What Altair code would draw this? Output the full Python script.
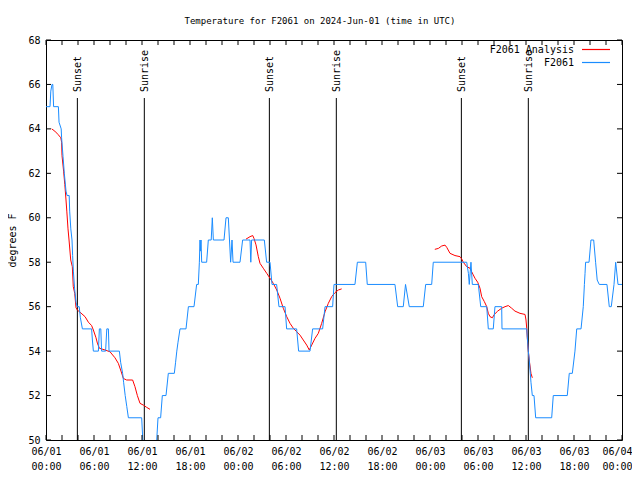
import altair as alt
import pandas as pd

HOUR_MS = 3600000
BASE_MS = int(pd.Timestamp("2024-06-01T00:00:00Z").value // 10**6)
FONT = "DejaVu Sans Mono"
FS = 10

# observed F2061 temperature: (hours since 2024-06-01 00:00 UTC, deg F)
f2061_obs = [
    (0.0, 65), (0.5, 65), (0.6, 65.7), (0.75, 66), (0.85, 66), (0.95, 65), (1.55, 65),
    (1.63, 64.3), (1.9, 64), (1.95, 63.6), (2.13, 62.75), (2.29, 62), (2.5, 61.2),
    (2.63, 61), (2.9, 61), (2.96, 60.3), (3.1, 59.5), (3.25, 59), (3.33, 58.3),
    (3.42, 57.6), (3.58, 56.8), (3.75, 56.2), (3.9, 56), (4.15, 56), (4.3, 55.5),
    (4.55, 55), (5.7, 55), (5.8, 54.5), (5.92, 54), (6.55, 54), (6.67, 55), (6.85, 55),
    (6.95, 54), (7.45, 54), (7.6, 55), (7.8, 55), (7.88, 54), (9.17, 54), (9.33, 53.5),
    (9.58, 53), (9.7, 52.6), (9.9, 52), (10.1, 51.5), (10.3, 51), (11.96, 51), (12.1, 50),
    (12.25, 49), (13.6, 49), (13.84, 50), (14.0, 51), (14.33, 51), (14.54, 52), (15.0, 52),
    (15.29, 53), (16.04, 53), (16.2, 53.5), (16.35, 54), (16.5, 54.4), (16.75, 55),
    (17.5, 55), (17.8, 56), (18.5, 56), (18.83, 57), (19.04, 57), (19.17, 58), (19.25, 59),
    (19.3, 58.5), (19.38, 59), (19.46, 58), (20.08, 58), (20.29, 59), (20.65, 59),
    (20.79, 60), (20.92, 59), (22.25, 59), (22.5, 60), (22.79, 60), (23.08, 58),
    (23.25, 59), (23.38, 58), (24.25, 58), (24.58, 59), (25.5, 59), (25.6, 58), (25.7, 59),
    (27.29, 59), (27.58, 58), (28.0, 58), (28.25, 57), (28.83, 57), (29.12, 56),
    (29.88, 56), (30.08, 55), (31.33, 55), (31.58, 54), (33.0, 54), (33.33, 55),
    (34.58, 55), (34.88, 56), (35.83, 56), (36.0, 57), (38.62, 57), (38.92, 58),
    (39.96, 58), (40.16, 57), (43.62, 57), (43.96, 56), (44.66, 56), (44.94, 57),
    (45.41, 56), (47.16, 56), (47.46, 57), (48.21, 57), (48.41, 58), (52.59, 58),
    (52.8, 57.5), (52.91, 57), (53.12, 58), (53.29, 57), (54.04, 57), (54.34, 56),
    (55.09, 56), (55.29, 55), (55.91, 55), (56.12, 56), (56.96, 56), (57.0, 55),
    (60.09, 55), (60.29, 54), (60.41, 53.6), (60.62, 52.6), (60.79, 52), (61.0, 52),
    (61.21, 51), (63.21, 51), (63.41, 52), (65.16, 52), (65.41, 53), (65.79, 53),
    (66.12, 54), (66.34, 55), (66.88, 55), (67.16, 56), (67.3, 57), (67.38, 57.5),
    (67.45, 58), (67.88, 58), (68.12, 59), (68.46, 59), (68.7, 58), (68.9, 57.2),
    (69.16, 57), (70.12, 57), (70.41, 56), (70.66, 56), (71.0, 57), (71.21, 58),
    (71.5, 57), (72.0, 57),
]

# F2061 analysis, three separate pieces
analysis_seg1 = [
    (0.71, 64.0), (1.1, 63.9), (1.5, 63.75), (1.85, 63.6), (1.95, 63.4), (2.0, 62.8),
    (2.2, 62.1), (2.35, 61.5), (2.5, 60.8), (2.6, 60.3), (2.75, 59.5), (2.88, 59.0),
    (3.09, 58.1), (3.29, 57.8), (3.41, 56.9), (3.59, 56.6), (3.75, 55.95), (3.92, 55.85),
    (4.25, 55.75), (4.88, 55.55), (5.3, 55.3), (5.7, 55.15), (5.92, 54.95), (6.25, 54.6),
    (6.42, 54.36), (6.67, 54.13), (7.38, 54.05), (8.0, 53.97), (8.62, 53.7), (9.04, 53.45),
    (9.33, 53.15), (9.67, 52.77), (10.08, 52.7), (10.83, 52.7), (11.12, 52.4),
    (11.42, 52.0), (11.75, 51.65), (12.17, 51.57), (12.58, 51.47), (13.0, 51.38),
]
analysis_seg2 = [
    (25.0, 59.04), (25.5, 59.15), (25.84, 59.2), (26.0, 59.07), (26.25, 58.78),
    (26.54, 58.25), (26.75, 57.95), (27.16, 57.73), (27.59, 57.5), (28.0, 57.28),
    (28.41, 57.05), (28.84, 56.75), (29.25, 56.38), (29.66, 55.93), (30.09, 55.55),
    (30.5, 55.25), (30.91, 55.03), (31.34, 54.87), (31.75, 54.72), (32.16, 54.5),
    (32.59, 54.27), (32.91, 54.05), (33.21, 54.27), (33.62, 54.57), (34.04, 54.8),
    (34.46, 55.25), (34.88, 55.77), (35.29, 56.15), (35.71, 56.45), (36.12, 56.63),
    (36.54, 56.75), (36.96, 56.8),
]
analysis_seg3 = [
    (48.6, 58.58), (49.04, 58.62), (49.46, 58.73), (49.88, 58.77), (50.09, 58.67),
    (50.5, 58.4), (51.12, 58.3), (51.75, 58.25), (51.96, 58.15), (52.16, 58.0),
    (52.59, 57.8), (53.0, 57.73), (53.21, 57.57), (53.41, 57.43), (53.62, 57.28),
    (53.96, 57.1), (54.25, 56.83), (54.46, 56.45), (54.79, 56.23), (55.09, 56.0),
    (55.29, 55.7), (55.5, 55.55), (55.79, 55.5), (56.04, 55.65), (56.46, 55.8),
    (56.96, 55.93), (57.38, 56.0), (57.79, 56.05), (58.21, 55.93), (58.62, 55.8),
    (59.25, 55.7), (59.88, 55.65), (60.0, 55.4), (60.09, 55.03), (60.16, 54.6),
    (60.29, 54.0), (60.44, 53.5), (60.62, 53.0), (60.79, 52.8),
]

sunset_hours = [3.92, 27.92, 51.92]
sunrise_hours = [12.29, 36.29, 60.29]
y_tick_values = [50, 52, 54, 56, 58, 60, 62, 64, 66, 68]
x_label_hours = list(range(0, 73, 6))
x_tick_hours = list(range(0, 73, 2))

TITLE = "Temperature for F2061 on 2024-Jun-01 (time in UTC)"
LEGEND_ANALYSIS = "F2061 Analysis"
LEGEND_OBS = "F2061"
RED = "#ff0000"
BLUE = "#1a8cff"


def to_ms(h):
    return BASE_MS + h * HOUR_MS


obs_df = pd.DataFrame({"t": [to_ms(h) for h, _ in f2061_obs], "v": [v for _, v in f2061_obs]})
rows = []
for i, seg in enumerate([analysis_seg1, analysis_seg2, analysis_seg3]):
    for h, v in seg:
        rows.append({"t": to_ms(h), "v": v, "seg": i})
ana_df = pd.DataFrame(rows)
sun_df = pd.DataFrame({
    "t": [to_ms(h) for h in sunset_hours] + [to_ms(h) for h in sunrise_hours],
    "label": ["Sunset"] * len(sunset_hours) + ["Sunrise"] * len(sunrise_hours),
})
xt_df = pd.DataFrame({"t": [to_ms(h) for h in x_tick_hours]})
yt_df = pd.DataFrame({"v": y_tick_values})
one = pd.DataFrame({"k": [0]})

x_axis = alt.Axis(
    values=[to_ms(h) for h in x_label_hours],
    labelExpr="[utcFormat(datum.value, '%m/%d'), utcFormat(datum.value, '%H:%M')]",
    ticks=False, domain=False, grid=False, title=None,
    labelPadding=6, labelFont=FONT, labelFontSize=FS, labelColor="black",
    labelAngle=0, labelLineHeight=15, labelFlush=False, labelOverlap=False,
    labelOffset={"condition": {"test": f"datum.value >= {to_ms(72)}", "value": -5}, "value": 0},
)
y_axis = alt.Axis(
    values=y_tick_values, ticks=False, domain=False, grid=False,
    labelPadding=6, labelFont=FONT, labelFontSize=FS, labelColor="black",
    title="degrees F", titleFont=FONT, titleFontSize=FS, titleFontWeight="normal",
    titleColor="black", titleAngle=270, titleX=-34, titleY=200,
    titleAlign="center", titleBaseline="middle",
)
X = alt.X("t:T", scale=alt.Scale(type="utc", domain=[to_ms(0), to_ms(72)]), axis=x_axis)
Y = alt.Y("v:Q", scale=alt.Scale(domain=[50, 68], nice=False, zero=False), axis=y_axis)

sun_rules = alt.Chart(sun_df).mark_rule(color="black", strokeWidth=1).encode(
    x=X, y=alt.value(58), y2=alt.value(400))
sun_text = alt.Chart(sun_df).mark_text(
    angle=270, align="left", baseline="middle", font=FONT, fontSize=FS, color="black", dy=1
).encode(x=X, y=alt.value(52), text="label:N")

red = alt.Chart(ana_df).mark_line(color=RED, strokeWidth=1, clip=True).encode(
    x=X, y=Y, detail="seg:N")
blue = alt.Chart(obs_df).mark_line(color=BLUE, strokeWidth=1, clip=True).encode(x=X, y=Y)

tb = alt.Chart(xt_df).mark_rule(color="black").encode(x=X, y=alt.value(395), y2=alt.value(400))
tt = alt.Chart(xt_df).mark_rule(color="black").encode(x=X, y=alt.value(0), y2=alt.value(5))
tl = alt.Chart(yt_df).mark_rule(color="black").encode(y=Y, x=alt.value(0), x2=alt.value(5))
tr = alt.Chart(yt_df).mark_rule(color="black").encode(y=Y, x=alt.value(571), x2=alt.value(576))

leg = []
for i, (lab, col) in enumerate([(LEGEND_ANALYSIS, RED), (LEGEND_OBS, BLUE)]):
    yy = 10 + 13 * i
    leg.append(alt.Chart(one).mark_text(
        text=lab, align="right", baseline="middle", font=FONT, fontSize=FS, color="black"
    ).encode(x=alt.value(528), y=alt.value(yy)))
    leg.append(alt.Chart(one).mark_rule(color=col, strokeWidth=1.2).encode(
        x=alt.value(536), x2=alt.value(564), y=alt.value(yy - 0.5)))

chart = alt.layer(sun_rules, sun_text, red, blue, tb, tt, tl, tr, *leg).properties(
    width=576, height=400,
    autosize=alt.AutoSizeParams(type="none"),
    padding={"left": 38, "top": 32, "right": 10, "bottom": 36},
    title=alt.TitleParams(TITLE, font=FONT, fontSize=9, fontWeight="normal", color="black",
                          anchor="middle", frame="group", dx=-14, offset=5,
                          baseline="middle"),
).configure_view(stroke="black", strokeWidth=1)

chart.save("out.html", embed_options={"renderer": "svg", "actions": False})
